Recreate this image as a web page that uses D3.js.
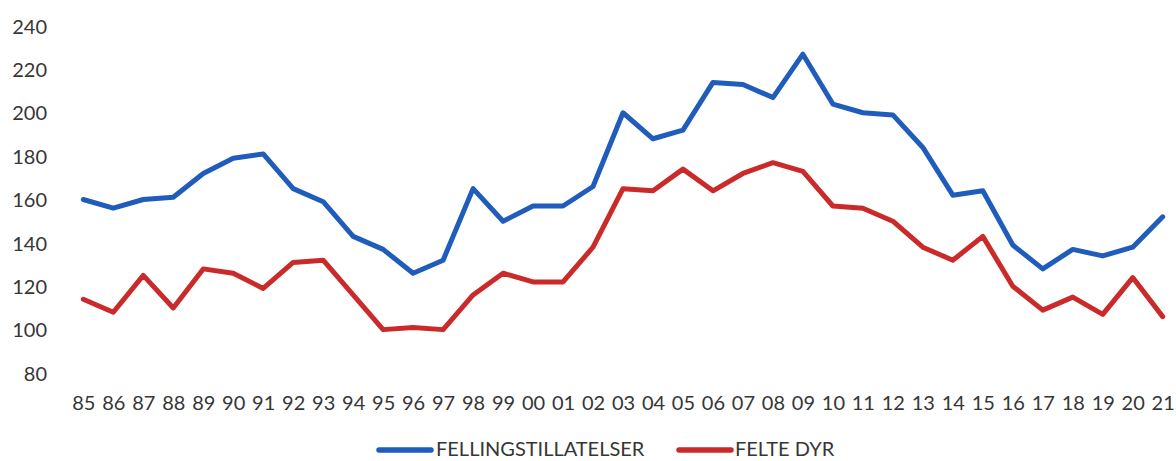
<!DOCTYPE html>
<html>
<head>
<meta charset="utf-8">
<script src="https://cdn.jsdelivr.net/npm/d3@7"></script>
<style>
  html, body { margin: 0; padding: 0; background: #fff; }
  svg { display: block; }
  text { font-family: Lato, "Open Sans", sans-serif; fill: #363636; }
</style>
</head>
<body>
<svg id="chart" width="1176" height="461"></svg>
<script>
// Years (two-digit labels), 1985–2021
const years = ["85","86","87","88","89","90","91","92","93","94","95","96","97","98","99",
  "00","01","02","03","04","05","06","07","08","09","10","11","12","13","14","15","16","17","18","19","20","21"];

// Permits issued
const fellingstillatelser = [160,156,160,161,172,179,181,165,159,143,137,126,132,165,150,
  157,157,166,200,188,192,214,213,207,227,204,200,199,184,162,164,139,128,137,134,138,152];

// Animals felled
const felteDyr = [114,108,125,110,128,126,119,131,132,116,100,101,100,116,126,
  122,122,138,165,164,174,164,172,177,173,157,156,150,138,132,143,120,109,115,107,124,106];

const yTicks = [80,100,120,140,160,180,200,220,240];

const seriesNames = ["FELLINGSTILLATELSER", "FELTE DYR"];
const seriesColors = ["#1f5cbc", "#cb2a2a"];

const svg = d3.select("#chart");

const x = d3.scalePoint().domain(years).range([83.3, 1162.7]);
const y = d3.scaleLinear().domain([80, 240]).range([373, 26]);

// Y axis labels (no line, no ticks)
const yAxis = d3.axisLeft(y).tickValues(yTicks).tickSize(0).tickPadding(0);
svg.append("g")
  .attr("transform", "translate(47,0)")
  .call(yAxis)
  .call(g => g.select(".domain").remove())
  .call(g => g.selectAll("text")
    .attr("font-size", 20)
    .attr("font-family", "Lato, 'Open Sans', sans-serif")
    .attr("fill", "#363636")
    .attr("dy", "0.36em"));

// X axis labels
const xAxis = d3.axisBottom(x).tickSize(0).tickPadding(0);
svg.append("g")
  .attr("transform", "translate(0,396)")
  .call(xAxis)
  .call(g => g.select(".domain").remove())
  .call(g => g.selectAll("text")
    .attr("font-size", 20)
    .attr("font-family", "Lato, 'Open Sans', sans-serif")
    .attr("fill", "#363636")
    .attr("dy", "0.36em")
    .attr("y", 7));

const line = d3.line()
  .x((d, i) => x(years[i]))
  .y(d => y(d));

[fellingstillatelser, felteDyr].forEach((vals, k) => {
  svg.append("path")
    .datum(vals)
    .attr("d", line)
    .attr("fill", "none")
    .attr("stroke", seriesColors[k])
    .attr("stroke-width", 5)
    .attr("stroke-linejoin", "round")
    .attr("stroke-linecap", "round");
});

// Legend along the bottom edge
const legendItems = [
  { x1: 379, x2: 431, tx: 436 },
  { x1: 679, x2: 731, tx: 735 }
];
const legend = svg.append("g");
legendItems.forEach((it, k) => {
  legend.append("line")
    .attr("x1", it.x1).attr("x2", it.x2)
    .attr("y1", 450).attr("y2", 450)
    .attr("stroke", seriesColors[k])
    .attr("stroke-width", 5.5)
    .attr("stroke-linecap", "round");
  legend.append("text")
    .attr("x", it.tx).attr("y", 456)
    .attr("font-size", 20)
    .text(seriesNames[k]);
});
</script>
</body>
</html>
